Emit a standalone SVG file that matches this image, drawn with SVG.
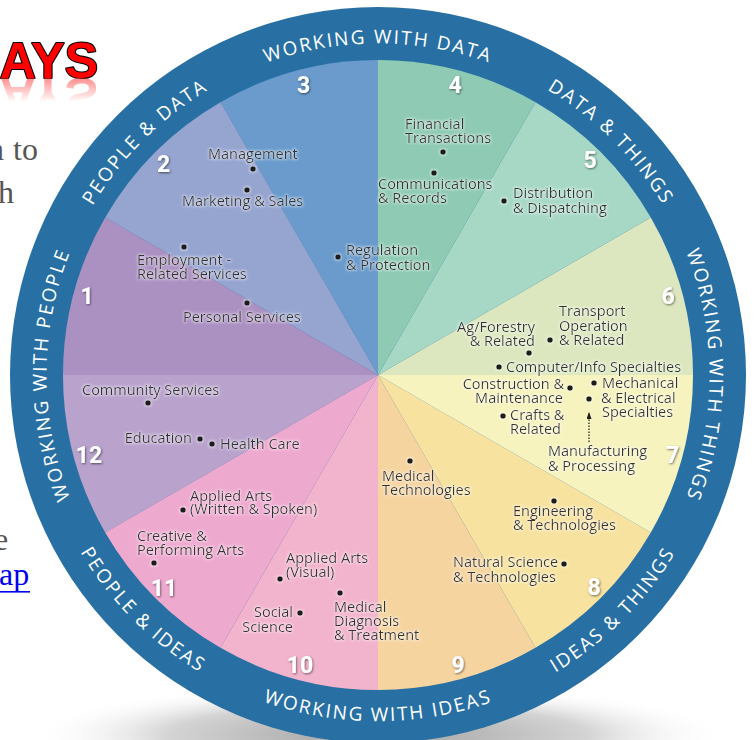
<svg xmlns="http://www.w3.org/2000/svg" width="756" height="740" viewBox="0 0 756 740">
<defs>
<style>
.it{font-family:"Open Sans","Liberation Sans",sans-serif;font-size:14.5px;fill:#333}
.e{text-anchor:end}
.num{font-family:Roboto,"Liberation Sans",sans-serif;font-weight:700;font-size:23px;fill:#fff;text-anchor:middle}
.rt{font-family:"Open Sans","Liberation Sans",sans-serif;font-size:19px;fill:#fff;letter-spacing:2px}
.dot{fill:#1c1c1c}
.pg{font-family:"Liberation Serif",serif;font-size:32px;fill:#555}
</style>
<filter id="sh" x="-30%" y="-30%" width="160%" height="160%">
<feDropShadow dx="0.8" dy="1" stdDeviation="1.2" flood-color="#000" flood-opacity="0.55"/>
</filter>
<filter id="halo" x="-10%" y="-30%" width="120%" height="160%">
<feMorphology in="SourceAlpha" operator="dilate" radius="1" result="d"/>
<feGaussianBlur in="d" stdDeviation="1.2" result="b"/>
<feFlood flood-color="#fff" flood-opacity="0.45"/>
<feComposite in2="b" operator="in" result="g"/>
<feMerge><feMergeNode in="g"/><feMergeNode in="SourceGraphic"/></feMerge>
</filter>
<radialGradient id="shadow" cx="0.5" cy="0.5" r="0.5">
<stop offset="0" stop-color="#a0a0a0"/>
<stop offset="0.6" stop-color="#d4d4d4"/>
<stop offset="1" stop-color="#fff" stop-opacity="0"/>
</radialGradient>
<linearGradient id="fadeG" x1="0" y1="78" x2="0" y2="102" gradientUnits="userSpaceOnUse">
<stop offset="0" stop-color="#fff" stop-opacity="0.55"/>
<stop offset="1" stop-color="#fff" stop-opacity="0"/>
</linearGradient>
<mask id="fade"><rect x="0" y="78" width="120" height="30" fill="url(#fadeG)"/></mask>
<marker id="ah" viewBox="0 0 7 5" refX="6" refY="2.5" markerWidth="7" markerHeight="5" markerUnits="userSpaceOnUse" orient="auto">
<path d="M0,0 L7,2.5 L0,5 Z" fill="#1c1c1c"/>
</marker>
<path id="pTop" d="M47.3,346.1 A332,332 0 0 1 708.7,346.1"/>
<path id="pDT" d="M164.6,120.7 A332,332 0 0 1 632.3,588.4"/>
<path id="pPD" d="M123.7,588.4 A332,332 0 0 1 591.4,120.7"/>
<path id="pLeft" d="M349.1,705.7 A332,332 0 0 1 349.1,44.3"/>
<path id="pRight" d="M406.9,44.3 A332,332 0 0 1 406.9,705.7"/>
<path id="pBot" d="M33.3,405.2 A346,346 0 0 0 722.7,405.2"/>
<path id="pIT" d="M155.6,640.1 A346,346 0 0 0 643.1,152.6"/>
<path id="pPI" d="M112.9,152.6 A346,346 0 0 0 600.4,640.1"/>
</defs>
<rect width="756" height="740" fill="#fff"/>

<g id="page">
<text x="98" y="78" text-anchor="end" font-family="'Liberation Sans',Arial,sans-serif" font-weight="700" font-size="50" fill="#ff0000" stroke="#000" stroke-width="2.2" paint-order="stroke" stroke-linejoin="round">AYS</text>
<g mask="url(#fade)"><text x="98" y="78" text-anchor="end" transform="translate(0,156) scale(1,-1)" font-family="'Liberation Sans',Arial,sans-serif" font-weight="700" font-size="50" fill="#ff3030">AYS</text></g>
<text class="pg" x="4" y="160" text-anchor="end">n</text>
<text class="pg" x="13" y="160">to</text>
<text class="pg" x="-2" y="203">h</text>
<text class="pg" x="-6" y="550">e</text>
<text x="-1" y="585" font-family="'Liberation Serif',serif" font-size="32" fill="#0000ee">ap</text>
<rect x="0" y="591" width="30" height="1.6" fill="#0000ee"/>
</g>

<ellipse cx="378" cy="735" rx="350" ry="52" fill="url(#shadow)"/>

<g id="ring">
<circle cx="378" cy="375" r="368" fill="#2870a4"/>
</g>

<g id="sector-6">
<path d="M378,375 L693,375 A315,315 0 0 0 650.8,217.5 Z" fill="#dce7bf"/>
<text class="num" x="668" y="304" filter="url(#sh)">6</text>
</g>
<g id="sector-5">
<path d="M378,375 L650.8,217.5 A315,315 0 0 0 535.5,102.2 Z" fill="#a7d8c6"/>
<text class="num" x="590" y="168" filter="url(#sh)">5</text>
</g>
<g id="sector-4">
<path d="M378,375 L535.5,102.2 A315,315 0 0 0 378,60 Z" fill="#8ecab4"/>
<text class="num" x="455" y="93" filter="url(#sh)">4</text>
</g>
<g id="sector-3">
<path d="M378,375 L378,60 A315,315 0 0 0 220.5,102.2 Z" fill="#6a9bcc"/>
<text class="num" x="303.5" y="93" filter="url(#sh)">3</text>
</g>
<g id="sector-2">
<path d="M378,375 L220.5,102.2 A315,315 0 0 0 105.2,217.5 Z" fill="#96a4d0"/>
<text class="num" x="163.5" y="172" filter="url(#sh)">2</text>
</g>
<g id="sector-1">
<path d="M378,375 L105.2,217.5 A315,315 0 0 0 63,375 Z" fill="#ab91c2"/>
<text class="num" x="87" y="304" filter="url(#sh)">1</text>
</g>
<g id="sector-12">
<path d="M378,375 L63,375 A315,315 0 0 0 105.2,532.5 Z" fill="#b9a3cd"/>
<text class="num" x="89" y="463" filter="url(#sh)">12</text>
</g>
<g id="sector-11">
<path d="M378,375 L105.2,532.5 A315,315 0 0 0 220.5,647.8 Z" fill="#eea9cf"/>
<text class="num" x="164" y="596" filter="url(#sh)">11</text>
</g>
<g id="sector-10">
<path d="M378,375 L220.5,647.8 A315,315 0 0 0 378,690 Z" fill="#f2b3cc"/>
<text class="num" x="300" y="673" filter="url(#sh)">10</text>
</g>
<g id="sector-9">
<path d="M378,375 L378,690 A315,315 0 0 0 535.5,647.8 Z" fill="#f5d4a0"/>
<text class="num" x="458" y="673" filter="url(#sh)">9</text>
</g>
<g id="sector-8">
<path d="M378,375 L535.5,647.8 A315,315 0 0 0 650.8,532.5 Z" fill="#f7e2a0"/>
<text class="num" x="594" y="595" filter="url(#sh)">8</text>
</g>
<g id="sector-7">
<path d="M378,375 L650.8,532.5 A315,315 0 0 0 693,375 Z" fill="#f6f3bf"/>
<text class="num" x="672.5" y="463" filter="url(#sh)">7</text>
</g>

<g id="ring-labels" class="rt">
<text><textPath href="#pTop" startOffset="50%" text-anchor="middle">WORKING WITH DATA</textPath></text>
<text><textPath href="#pDT" startOffset="50%" text-anchor="middle">DATA &amp; THINGS</textPath></text>
<text><textPath href="#pPD" startOffset="50%" text-anchor="middle">PEOPLE &amp; DATA</textPath></text>
<text><textPath href="#pLeft" startOffset="50%" text-anchor="middle">WORKING WITH PEOPLE</textPath></text>
<text><textPath href="#pRight" startOffset="50%" text-anchor="middle">WORKING WITH THINGS</textPath></text>
<text><textPath href="#pBot" startOffset="50%" text-anchor="middle">WORKING WITH IDEAS</textPath></text>
<text><textPath href="#pIT" startOffset="50%" text-anchor="middle">IDEAS &amp; THINGS</textPath></text>
<text><textPath href="#pPI" startOffset="50%" text-anchor="middle">PEOPLE &amp; IDEAS</textPath></text>
</g>

<g id="items" filter="url(#halo)">
<g id="management"><circle class="dot" cx="253" cy="169" r="2.8"/><text class="it" x="208" y="159">Management</text></g>
<g id="marketing"><circle class="dot" cx="247" cy="190" r="2.8"/><text class="it" x="182" y="206">Marketing &amp; Sales</text></g>
<g id="employment"><circle class="dot" cx="184" cy="247" r="2.8"/><text class="it" x="137" y="265">Employment -</text><text class="it" x="137" y="279">Related Services</text></g>
<g id="personal"><circle class="dot" cx="247" cy="303" r="2.8"/><text class="it" x="183" y="322">Personal Services</text></g>
<g id="regulation"><circle class="dot" cx="338" cy="257" r="2.8"/><text class="it" x="346" y="255">Regulation</text><text class="it" x="346" y="270">&amp; Protection</text></g>
<g id="financial"><text class="it" x="405" y="129">Financial</text><text class="it" x="405" y="143">Transactions</text><circle class="dot" cx="443" cy="152" r="2.8"/></g>
<g id="communications"><circle class="dot" cx="434" cy="173" r="2.8"/><text class="it" x="378" y="189">Communications</text><text class="it" x="378" y="203">&amp; Records</text></g>
<g id="distribution"><circle class="dot" cx="504" cy="201" r="2.8"/><text class="it" x="513" y="198">Distribution</text><text class="it" x="513" y="213">&amp; Dispatching</text></g>
<g id="transport"><text class="it" x="559" y="316">Transport</text><text class="it" x="559" y="331">Operation</text><text class="it" x="559" y="345">&amp; Related</text><circle class="dot" cx="550" cy="340" r="2.8"/></g>
<g id="agforestry"><text class="it e" x="535" y="332">Ag/Forestry</text><text class="it e" x="535" y="346">&amp; Related</text><circle class="dot" cx="529" cy="353" r="2.8"/></g>
<g id="computer"><circle class="dot" cx="499" cy="367" r="2.8"/><text class="it" x="506" y="372">Computer/Info Specialties</text></g>
<g id="construction"><text class="it e" x="564" y="389">Construction &amp;</text><text class="it e" x="563" y="403">Maintenance</text><circle class="dot" cx="570" cy="388" r="2.8"/></g>
<g id="mechanical"><circle class="dot" cx="594" cy="383" r="2.8"/><text class="it" x="602" y="388">Mechanical</text><text class="it" x="601" y="403">&amp; Electrical</text><text class="it" x="602" y="417">Specialties</text><circle class="dot" cx="589" cy="399" r="2.8"/></g>
<g id="crafts"><circle class="dot" cx="503" cy="416" r="2.8"/><text class="it" x="510" y="420">Crafts &amp;</text><text class="it" x="510" y="434">Related</text></g>
<g id="manufacturing"><text class="it" x="548" y="456">Manufacturing</text><text class="it" x="548" y="471">&amp; Processing</text></g>
<g id="engineering"><circle class="dot" cx="554" cy="501" r="2.8"/><text class="it" x="513" y="516">Engineering</text><text class="it" x="513" y="530">&amp; Technologies</text></g>
<g id="natural-science"><text class="it" x="453" y="567">Natural Science</text><text class="it" x="453" y="582">&amp; Technologies</text><circle class="dot" cx="564" cy="564" r="2.8"/></g>
<g id="medical-tech"><circle class="dot" cx="410" cy="461" r="2.8"/><text class="it" x="382" y="481">Medical</text><text class="it" x="382" y="495">Technologies</text></g>
<g id="applied-visual"><text class="it" x="286" y="563">Applied Arts</text><text class="it" x="286" y="577">(Visual)</text><circle class="dot" cx="280" cy="579" r="2.8"/></g>
<g id="medical-diag"><circle class="dot" cx="340" cy="593" r="2.8"/><text class="it" x="334" y="612">Medical</text><text class="it" x="334" y="626">Diagnosis</text><text class="it" x="334" y="640">&amp; Treatment</text></g>
<g id="social"><text class="it e" x="293" y="617">Social</text><text class="it e" x="293" y="632">Science</text><circle class="dot" cx="300" cy="613" r="2.8"/></g>
<g id="applied-written"><circle class="dot" cx="183" cy="510" r="2.8"/><text class="it" x="190" y="501">Applied Arts</text><text class="it" x="190" y="514">(Written &amp; Spoken)</text></g>
<g id="creative"><text class="it" x="137" y="541">Creative &amp;</text><text class="it" x="137" y="555">Performing Arts</text><circle class="dot" cx="154" cy="563" r="2.8"/></g>
<g id="community"><text class="it" x="82" y="395">Community Services</text><circle class="dot" cx="148" cy="403" r="2.8"/></g>
<g id="education"><text class="it e" x="192" y="443">Education</text><circle class="dot" cx="200" cy="439" r="2.8"/></g>
<g id="health"><circle class="dot" cx="212" cy="444" r="2.8"/><text class="it" x="220" y="449">Health Care</text></g>
</g>

<g id="connectors">
<line x1="589" y1="442" x2="589" y2="413" stroke="#1c1c1c" stroke-width="1.2" stroke-dasharray="1.5 1.5" marker-end="url(#ah)"/>
</g>
</svg>
